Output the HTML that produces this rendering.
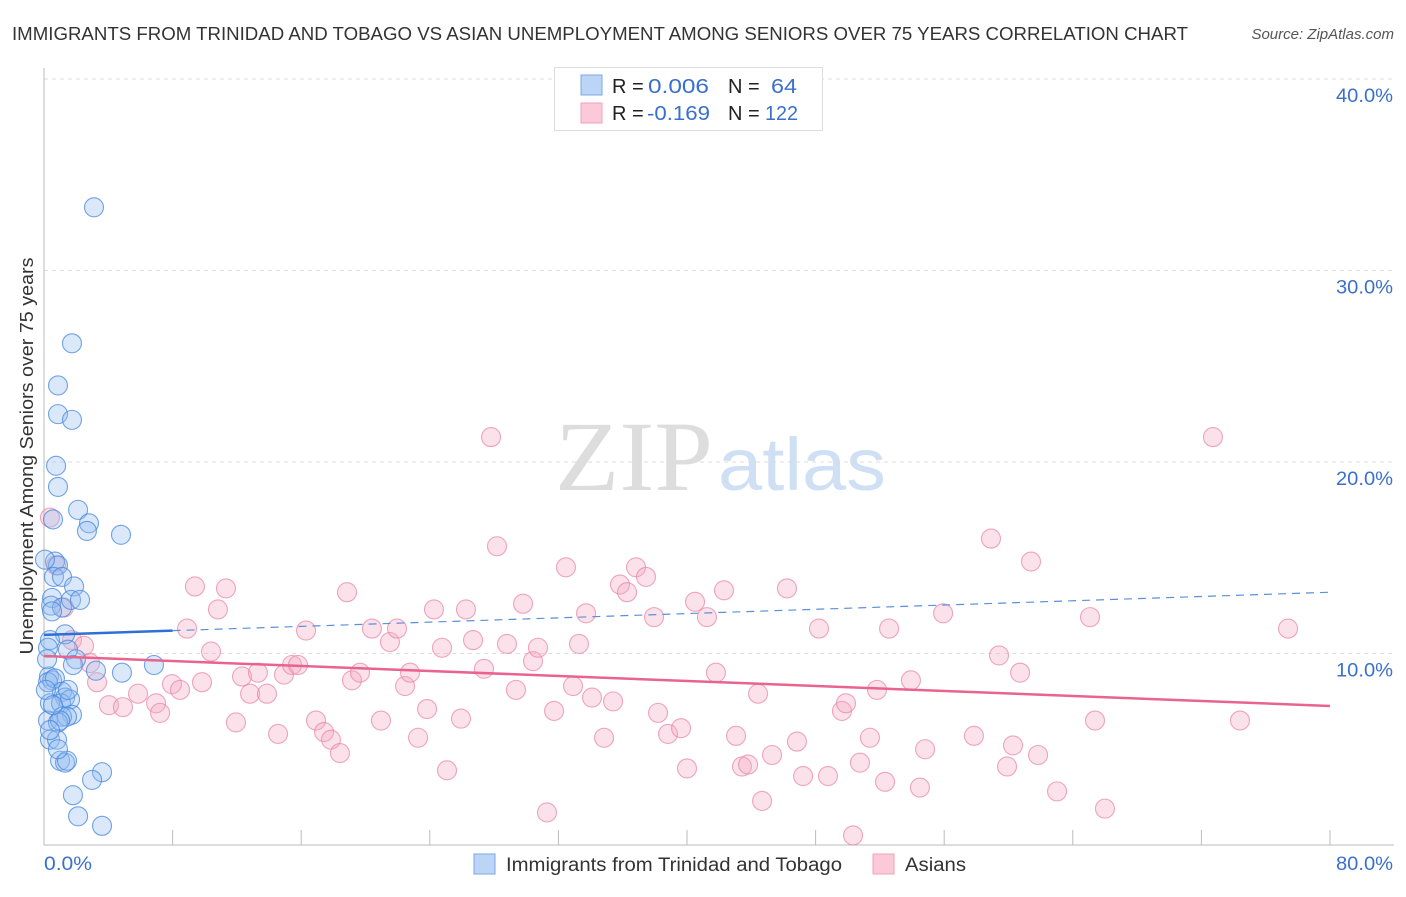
<!DOCTYPE html>
<html><head><meta charset="utf-8"><style>
body{margin:0;background:#fff;font-family:"Liberation Sans",sans-serif}
svg text{font-family:"Liberation Sans",sans-serif}
</style></head><body>
<svg id="chart" width="1406" height="892">
<text x="12" y="40" font-size="18" fill="#333" textLength="1176" lengthAdjust="spacingAndGlyphs">IMMIGRANTS FROM TRINIDAD AND TOBAGO VS ASIAN UNEMPLOYMENT AMONG SENIORS OVER 75 YEARS CORRELATION CHART</text>
<text x="1394" y="39" font-size="15" fill="#555" font-style="italic" text-anchor="end">Source: ZipAtlas.com</text>
<text transform="translate(33,456) rotate(-90)" font-size="18" fill="#333" text-anchor="middle" textLength="397" lengthAdjust="spacingAndGlyphs">Unemployment Among Seniors over 75 years</text>
<text x="634" y="490" font-size="100" fill="#ddd" text-anchor="middle" textLength="158" lengthAdjust="spacingAndGlyphs" style="font-family:'Liberation Serif',serif">ZIP</text>
<text x="802" y="490" font-size="74" fill="#cfe0f5" text-anchor="middle" textLength="168" lengthAdjust="spacingAndGlyphs">atlas</text>
<g id="grid"></g><g id="axes"></g><g id="pts"></g><g id="trends"></g>
<g>
<rect x="554.5" y="67.5" width="268" height="63" fill="#fff" stroke="#ddd"/>
<rect x="581" y="75" width="21" height="20" fill="#bcd4f5" stroke="#7aa7e6"/>
<rect x="581" y="103" width="21" height="20" fill="#fbc9d7" stroke="#f0a3ba"/>
<text x="612" y="93" font-size="20" fill="#222">R = <tspan fill="#3a70cc" x="648" textLength="61" lengthAdjust="spacingAndGlyphs">0.006</tspan></text>
<text x="728" y="93" font-size="20" fill="#222">N = <tspan fill="#3a70cc" x="771" textLength="26" lengthAdjust="spacingAndGlyphs">64</tspan></text>
<text x="612" y="120" font-size="20" fill="#222">R = <tspan fill="#3a70cc" x="647" textLength="63" lengthAdjust="spacingAndGlyphs">-0.169</tspan></text>
<text x="728" y="120" font-size="20" fill="#222">N = <tspan fill="#3a70cc" x="765" textLength="33" lengthAdjust="spacingAndGlyphs">122</tspan></text>
</g>
<g>
<rect x="474" y="854" width="21" height="20" fill="#bcd4f5" stroke="#7aa7e6"/>
<text x="506" y="871" font-size="19" fill="#333" textLength="336" lengthAdjust="spacingAndGlyphs">Immigrants from Trinidad and Tobago</text>
<rect x="873" y="854" width="21" height="20" fill="#fbc9d7" stroke="#f0a3ba"/>
<text x="905" y="871" font-size="19" fill="#333" textLength="61" lengthAdjust="spacingAndGlyphs">Asians</text>
</g>
</svg>
<script>
const yTicks=[10,20,30,40];
const yTickLabels=["10.0%","20.0%","30.0%","40.0%"];
const xTicks=[0,8,16,24,32,40,48,56,64,72,80];
const blueX=[3.11,1.74,0.87,0.87,1.74,0.75,0.87,2.12,2.80,2.67,4.79,0.56,0.68,0.87,0.62,1.12,1.87,0.50,0.44,1.12,0.50,1.31,0.37,0.25,1.49,1.99,1.80,6.84,4.85,0.31,0.50,0.25,0.68,1.12,1.31,0.37,1.06,1.62,1.74,1.12,1.43,0.25,0.87,0.37,0.81,1.00,1.31,1.43,3.61,2.99,1.80,2.12,3.61,0.12,0.19,1.00,0.37,1.68,2.24,0.06,3.23,1.49,0.87,0.56];
const blueY=[33.3,26.2,24.0,22.5,22.2,19.8,18.7,17.5,16.8,16.4,16.2,17.0,14.8,14.6,14.0,14.0,13.5,12.9,12.5,12.4,12.2,11.0,10.7,10.3,10.2,9.7,9.4,9.4,9.0,8.8,8.6,8.5,8.7,8.0,7.7,7.4,7.4,7.6,6.8,6.7,6.7,6.5,6.4,5.5,5.5,4.4,4.3,4.4,3.8,3.4,2.6,1.5,1.0,8.1,9.7,6.5,6.0,12.8,12.8,14.9,9.1,8.1,5.0,7.3];
const pinkX=[0.37,0.75,1.24,1.74,2.49,2.86,3.30,4.04,4.91,5.85,6.97,7.22,7.96,8.46,8.90,9.39,10.82,10.39,9.83,11.32,11.94,12.32,12.82,13.31,13.87,14.56,14.93,15.43,15.80,16.30,16.92,17.42,17.85,18.41,18.85,19.16,19.66,20.40,20.96,21.52,21.96,22.46,22.77,23.27,23.83,24.26,24.76,25.07,25.94,26.25,26.69,27.37,27.81,28.18,28.80,29.36,29.80,30.42,30.73,31.29,31.73,32.47,32.91,33.28,33.72,34.09,34.84,35.40,35.83,36.27,36.83,37.45,37.95,38.20,38.82,39.63,40.00,40.50,41.24,41.80,42.30,43.05,43.42,43.80,44.42,44.67,45.29,46.22,46.84,47.22,48.21,48.77,49.64,49.89,50.33,50.76,51.38,51.82,52.32,52.57,53.93,54.49,54.81,55.93,57.85,58.91,59.41,59.91,60.28,60.72,61.40,61.84,63.02,65.07,65.38,66.00,72.72,74.40,77.39];
const pinkY=[17.1,14.6,12.4,10.7,10.4,9.5,8.5,7.3,7.2,7.9,7.4,6.9,8.4,8.1,11.3,13.5,12.3,10.1,8.5,13.4,6.4,8.8,7.9,9.0,7.9,5.8,8.9,9.4,9.4,11.2,6.5,5.9,5.5,4.8,13.2,8.6,9.0,11.3,6.5,10.6,11.3,8.3,9.0,5.6,7.1,12.3,10.3,3.9,6.6,12.3,10.7,9.2,21.3,15.6,10.5,8.1,12.6,9.6,10.3,1.7,7.0,14.5,8.3,10.5,12.1,7.7,5.6,7.5,13.6,13.2,14.5,14.0,11.9,6.9,5.8,6.1,4.0,12.7,11.9,9.0,13.3,5.7,4.1,4.2,7.9,2.3,4.7,13.4,5.4,3.6,11.3,3.6,7.0,7.4,0.5,4.3,5.6,8.1,3.3,11.3,8.6,3.0,5.0,12.1,5.7,16.0,9.9,4.1,5.2,9.0,14.8,4.7,2.8,11.9,6.5,1.9,21.3,6.5,11.3];
const blueTrend=[10.97,13.2];
const pinkTrend=[9.87,7.26];
const blueSolidEnd=8;
const NS="http://www.w3.org/2000/svg";
const xs=v=>44+v*16.075;
const ys=v=>845-v*19.15;
function mk(tag,parent,attrs){const e=document.createElementNS(NS,tag);for(const k in attrs)e.setAttribute(k,attrs[k]);document.getElementById(parent).appendChild(e);return e;}
yTicks.forEach((t,i)=>{
  const l=mk('line','grid',{x1:44,x2:1394,y1:ys(t),y2:ys(t),stroke:'#ddd','stroke-dasharray':'4,4'});
  
  
  const tx=mk('text','grid',{x:1393,y:ys(t)+23,'font-size':19,fill:'#3a70cc','text-anchor':'end',textLength:57,lengthAdjust:'spacingAndGlyphs'});
  tx.textContent=yTickLabels[i];
  
  
});
const ya=mk('line','axes',{x1:44,x2:44,y1:68,y2:845,stroke:'#bbb'});


const xa=mk('line','axes',{x1:44,x2:1394,y1:845,y2:845,stroke:'#bbb'});


xTicks.forEach(t=>{
  const l=mk('line','axes',{x1:xs(t),x2:xs(t),y1:830,y2:845,stroke:'#bbb'});
  
  
});
const x0=mk('text','axes',{x:44,y:870,'font-size':19,fill:'#3a70cc',textLength:48,lengthAdjust:'spacingAndGlyphs'});x0.textContent='0.0%';


const x1=mk('text','axes',{x:1393,y:870,'font-size':19,fill:'#3a70cc','text-anchor':'end',textLength:57,lengthAdjust:'spacingAndGlyphs'});x1.textContent='80.0%';


pinkX.forEach((v,i)=>{
  const c=mk('circle','pts',{cx:xs(v),cy:ys(pinkY[i]),r:9.5,fill:'rgba(244,170,195,0.35)',stroke:'rgba(232,130,165,0.7)','stroke-width':1.1});
  
  
});
blueX.forEach((v,i)=>{
  const c=mk('circle','pts',{cx:xs(v),cy:ys(blueY[i]),r:9.5,fill:'rgba(150,190,240,0.35)',stroke:'rgba(70,135,220,0.75)','stroke-width':1.1});
  
  
});
const bAt=v=>blueTrend[0]+(blueTrend[1]-blueTrend[0])*v/80;
const b1=mk('line','trends',{x1:xs(0),y1:ys(bAt(0)),x2:xs(blueSolidEnd),y2:ys(bAt(blueSolidEnd)),stroke:'#2f6fd6','stroke-width':2.5});


const b2=mk('line','trends',{x1:xs(blueSolidEnd),y1:ys(bAt(blueSolidEnd)),x2:xs(80),y2:ys(bAt(80)),stroke:'#5b8fdc','stroke-width':1.2,'stroke-dasharray':'8,6'});


const p1=mk('line','trends',{x1:xs(0),y1:ys(pinkTrend[0]),x2:xs(80),y2:ys(pinkTrend[1]),stroke:'#e8648f','stroke-width':2.5});


</script>
</body></html>
